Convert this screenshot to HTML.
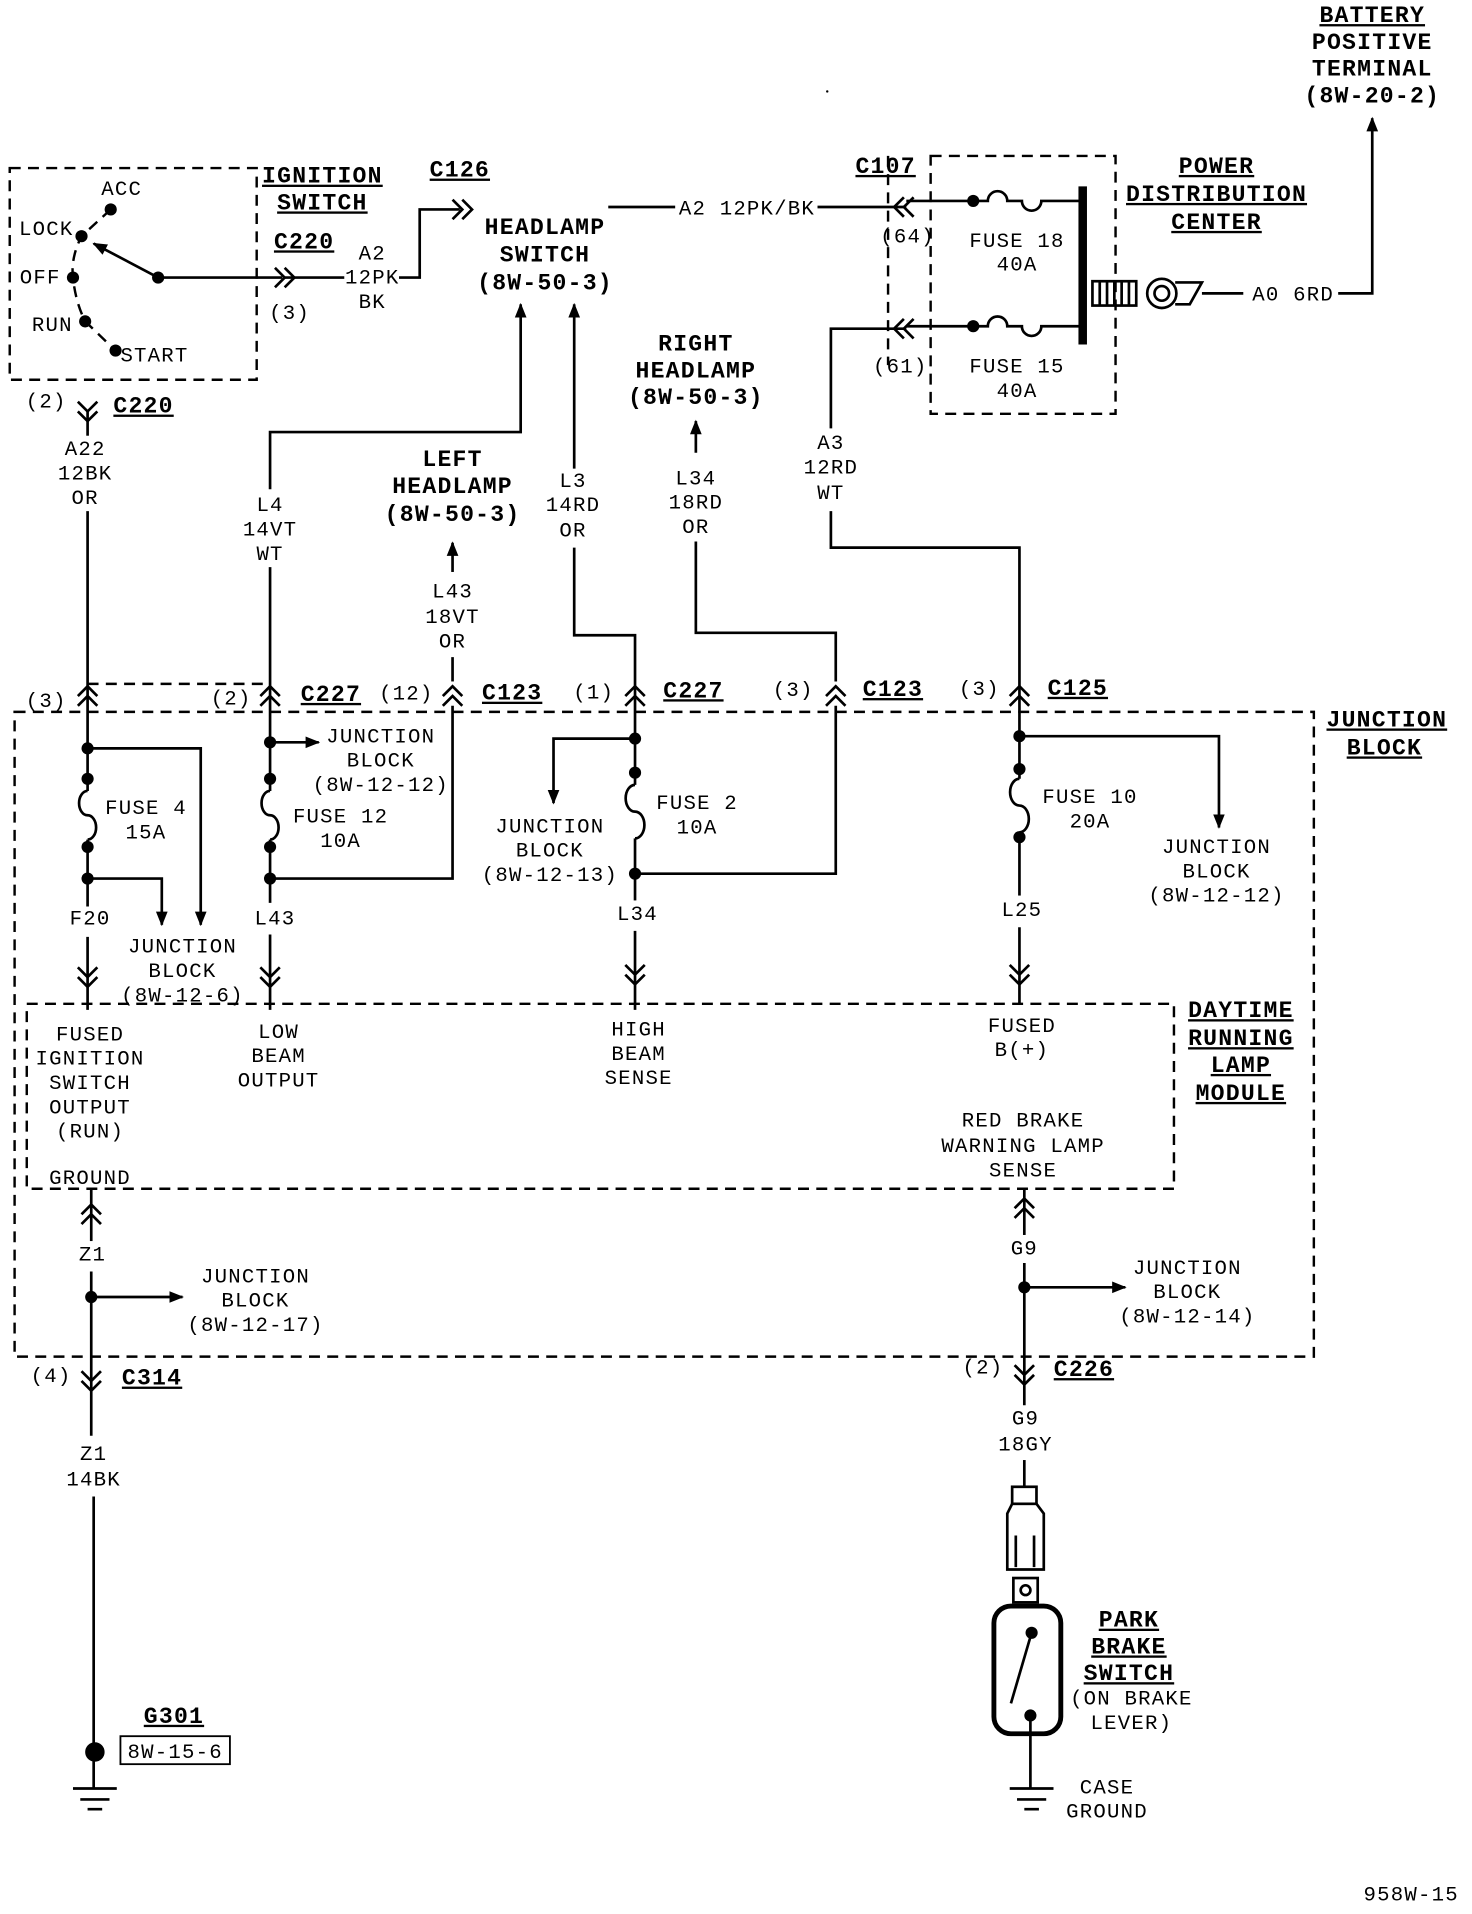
<!DOCTYPE html>
<html><head><meta charset="utf-8"><style>
html,body{margin:0;padding:0;background:#fff;}
svg{display:block}
text{font-family:"Liberation Mono",monospace;font-size:17px;fill:#000;text-anchor:middle;letter-spacing:1px}
.b{font-weight:bold;font-size:19px;text-decoration:underline}
.bn{font-weight:bold;font-size:19px}
</style></head><body>
<svg width="1472" height="1914" viewBox="0 0 1210 1573" xmlns="http://www.w3.org/2000/svg">
<defs>
<marker id="ar" viewBox="0 0 10 10" refX="9" refY="5" markerWidth="12" markerHeight="12" markerUnits="userSpaceOnUse" orient="auto"><path d="M0,1 L10,5 L0,9 z" fill="#000"/></marker>
</defs>
<g fill="none" stroke="#000" stroke-width="2.2">
<g stroke-dasharray="9,6" stroke-width="2">
<rect x="8" y="138" width="203" height="174"/>
<rect x="765" y="128" width="152" height="212"/>
<line x1="730" y1="128" x2="730" y2="300"/>
<rect x="12" y="585" width="1068" height="530"/>
<rect x="22" y="825" width="943" height="152"/>
<line x1="72" y1="562" x2="222" y2="562"/>
<path d="M91,172 L67,194 Q58,212 60,228 Q62,248 70,264 L95,288"/>
</g>
<line x1="130" y1="228" x2="77" y2="200" marker-end="url(#ar)"/>
<line x1="130" y1="228" x2="232" y2="228"/>
<path d="M226,220 L234,228 L226,236 M234,220 L242,228 L234,236"/>
<line x1="234" y1="228" x2="283" y2="228"/>
<path d="M328,228 L345,228 L345,172 L378,172"/>
<path d="M372,164 L380,172 L372,180 M380,164 L388,172 L380,180"/>
<line x1="500" y1="170" x2="555" y2="170"/>
<line x1="672" y1="170" x2="745" y2="170"/>
<path d="M743,162 L735,170 L743,178 M751,162 L743,170 L751,178"/>
<line x1="745" y1="165" x2="800" y2="165"/>
<path d="M800,165 L812,165 a8,8 0 0 1 16,0 L840,165 a8,8 0 0 0 16,0 L888,165"/>
<path d="M683,352 L683,270 L745,270"/>
<path d="M743,262 L735,270 L743,278 M751,262 L743,270 L751,278"/>
<path d="M745,268 L812,268 a8,8 0 0 1 16,0 L840,268 a8,8 0 0 0 16,0 L888,268"/>
<line x1="890" y1="153" x2="890" y2="283" stroke-width="7"/>
<rect x="898" y="231" width="36" height="20"/>
<path d="M904,231v20M910,231v20M916,231v20M922,231v20M928,231v20"/>
<circle cx="955" cy="241" r="12"/><circle cx="955" cy="241" r="6"/>
<path d="M966,232 L988,232 L978,250 L966,250"/>
<line x1="988" y1="241" x2="1022" y2="241"/>
<path d="M1100,241 L1128,241 L1128,97" marker-end="url(#ar)"/>
<path d="M222,402 L222,355 L428,355 L428,250" marker-end="url(#ar)"/>
<line x1="222" y1="466" x2="222" y2="560"/>
<path d="M472,385 L472,250" marker-end="url(#ar)"/>
<path d="M472,450 L472,522 L522,522 L522,560"/>
<path d="M372,470 L372,446" marker-end="url(#ar)"/>
<line x1="372" y1="540" x2="372" y2="560"/>
<path d="M572,372 L572,346" marker-end="url(#ar)"/>
<path d="M572,445 L572,520 L687,520 L687,560"/>
<path d="M683,420 L683,450 L838,450 L838,560"/>
<line x1="72" y1="338" x2="72" y2="358"/>
<line x1="72" y1="420" x2="72" y2="560"/>
<path d="M64,330 L72,338 L80,330 M64,338 L72,346 L80,338"/>
<g>
<path d="M64,572 L72,564 L80,572 M64,580 L72,572 L80,580"/>
<path d="M214,572 L222,564 L230,572 M214,580 L222,572 L230,580"/>
<path d="M364,572 L372,564 L380,572 M364,580 L372,572 L380,580"/>
<path d="M514,572 L522,564 L530,572 M514,580 L522,572 L530,580"/>
<path d="M679,572 L687,564 L695,572 M679,580 L687,572 L695,580"/>
<path d="M830,572 L838,564 L846,572 M830,580 L838,572 L846,580"/>
</g>
<line x1="72" y1="560" x2="72" y2="650"/>
<path d="M72,650 a7,10 0 0 0 0,20 a7,10 0 0 1 0,20"/>
<line x1="72" y1="690" x2="72" y2="745"/>
<path d="M72,615 L165,615 L165,760" marker-end="url(#ar)"/>
<path d="M72,722 L133,722 L133,760" marker-end="url(#ar)"/>
<line x1="72" y1="770" x2="72" y2="830"/>
<line x1="222" y1="560" x2="222" y2="650"/>
<path d="M222,650 a7,10 0 0 0 0,20 a7,10 0 0 1 0,20"/>
<line x1="222" y1="690" x2="222" y2="742"/>
<path d="M222,610 L262,610" marker-end="url(#ar)"/>
<path d="M222,722 L372,722 L372,580"/>
<line x1="222" y1="768" x2="222" y2="830"/>
<line x1="522" y1="560" x2="522" y2="645"/>
<path d="M522,645 a7,10 0 0 0 0,22 a7,10 0 0 1 0,22"/>
<line x1="522" y1="689" x2="522" y2="740"/>
<path d="M522,607 L455,607 L455,660" marker-end="url(#ar)"/>
<path d="M522,718 L687,718 L687,580"/>
<line x1="522" y1="765" x2="522" y2="830"/>
<line x1="838" y1="560" x2="838" y2="640"/>
<path d="M838,640 a7,10 0 0 0 0,22 a7,10 0 0 1 0,22"/>
<line x1="838" y1="684" x2="838" y2="736"/>
<path d="M838,605 L1002,605 L1002,680" marker-end="url(#ar)"/>
<line x1="838" y1="762" x2="838" y2="825"/>
<g>
<path d="M64,795 L72,803 L80,795 M64,803 L72,811 L80,803"/>
<path d="M214,795 L222,803 L230,795 M214,803 L222,811 L230,803"/>
<path d="M514,793 L522,801 L530,793 M514,801 L522,809 L530,801"/>
<path d="M830,793 L838,801 L846,793 M830,801 L838,809 L846,801"/>
</g>
<line x1="75" y1="977" x2="75" y2="1020"/>
<path d="M67,998 L75,990 L83,998 M67,1006 L75,998 L83,1006"/>
<line x1="75" y1="1045" x2="75" y2="1180"/>
<path d="M75,1066 L150,1066" marker-end="url(#ar)"/>
<path d="M67,1127 L75,1135 L83,1127 M67,1135 L75,1143 L83,1135"/>
<line x1="77" y1="1230" x2="77" y2="1470"/>
<path d="M60,1470h36M66,1479h24M72,1487h12"/>
<line x1="842" y1="977" x2="842" y2="1015"/>
<path d="M834,993 L842,985 L850,993 M834,1001 L842,993 L850,1001"/>
<line x1="842" y1="1038" x2="842" y2="1155"/>
<path d="M842,1058 L925,1058" marker-end="url(#ar)"/>
<path d="M834,1122 L842,1130 L850,1122 M834,1130 L842,1138 L850,1130"/>
<line x1="842" y1="1200" x2="842" y2="1222"/>
<rect x="832" y="1222" width="20" height="14"/>
<path d="M832,1236 L828,1244 L828,1290 L858,1290 L858,1244 L852,1236"/>
<path d="M835,1262 L835,1288 M850,1262 L850,1288"/>
<rect x="833" y="1297" width="20" height="20"/>
<circle cx="843" cy="1307" r="4"/>
<rect x="817" y="1320" width="55" height="105" rx="14" stroke-width="4"/>
<line x1="848" y1="1342" x2="831" y2="1400"/>
<line x1="847" y1="1410" x2="847" y2="1470"/>
<path d="M830,1470h36M836,1479h24M842,1487h12"/>
<rect x="99" y="1427" width="90" height="23" stroke-width="1.5"/>
</g>
<g fill="#000">
<circle cx="91" cy="172" r="5"/><circle cx="67" cy="194" r="5"/><circle cx="60" cy="228" r="5"/><circle cx="70" cy="264" r="5"/><circle cx="95" cy="288" r="5"/><circle cx="130" cy="228" r="5"/>
<circle cx="800" cy="165" r="5"/><circle cx="800" cy="268" r="5"/>
<circle cx="72" cy="615" r="5"/><circle cx="72" cy="640" r="5"/><circle cx="72" cy="696" r="5"/><circle cx="72" cy="722" r="5"/>
<circle cx="222" cy="610" r="5"/><circle cx="222" cy="640" r="5"/><circle cx="222" cy="696" r="5"/><circle cx="222" cy="722" r="5"/>
<circle cx="522" cy="607" r="5"/><circle cx="522" cy="635" r="5"/><circle cx="522" cy="718" r="5"/>
<circle cx="838" cy="605" r="5"/><circle cx="838" cy="632" r="5"/><circle cx="838" cy="688" r="5"/>
<circle cx="75" cy="1066" r="5"/><circle cx="842" cy="1058" r="5"/>
<circle cx="78" cy="1440" r="8"/>
<circle cx="848" cy="1342" r="5"/><circle cx="847" cy="1410" r="5"/>
<circle cx="680" cy="75" r="1"/>
</g>
<text class="b" x="1128" y="18">BATTERY</text><text class="bn" x="1128" y="40">POSITIVE</text><text class="bn" x="1128" y="62">TERMINAL</text><text class="bn" x="1128" y="84">(8W-20-2)</text>
<text class="b" x="1000" y="142">POWER</text><text class="b" x="1000" y="165">DISTRIBUTION</text><text class="b" x="1000" y="188">CENTER</text>
<text class="b" x="265" y="150">IGNITION</text><text class="b" x="265" y="172">SWITCH</text>
<text class="b" x="250" y="204">C220</text>
<text class="b" x="378" y="145">C126</text>
<text class="b" x="728" y="142">C107</text>
<text x="100" y="160">ACC</text><text x="38" y="193">LOCK</text><text x="33" y="233">OFF</text><text x="43" y="272">RUN</text><text x="127" y="297">START</text>
<text x="238" y="262">(3)</text>
<text x="306" y="213">A2</text><text x="306" y="233">12PK</text><text x="306" y="253">BK</text>
<text class="bn" x="448" y="192">HEADLAMP</text><text class="bn" x="448" y="215">SWITCH</text><text class="bn" x="448" y="238">(8W-50-3)</text>
<text x="614" y="176">A2 12PK/BK</text>
<text x="836" y="203">FUSE 18</text><text x="836" y="222">40A</text>
<text x="836" y="306">FUSE 15</text><text x="836" y="326">40A</text>
<text x="746" y="199">(64)</text><text x="740" y="306">(61)</text>
<text x="1063" y="247">A0 6RD</text>
<text x="38" y="335">(2)</text><text class="b" x="118" y="339">C220</text>
<text x="70" y="374">A22</text><text x="70" y="394">12BK</text><text x="70" y="414">OR</text>
<text x="222" y="420">L4</text><text x="222" y="440">14VT</text><text x="222" y="460">WT</text>
<text class="bn" x="372" y="383">LEFT</text><text class="bn" x="372" y="405">HEADLAMP</text><text class="bn" x="372" y="428">(8W-50-3)</text>
<text x="372" y="491">L43</text><text x="372" y="512">18VT</text><text x="372" y="532">OR</text>
<text x="471" y="400">L3</text><text x="471" y="420">14RD</text><text x="471" y="441">OR</text>
<text class="bn" x="572" y="288">RIGHT</text><text class="bn" x="572" y="310">HEADLAMP</text><text class="bn" x="572" y="332">(8W-50-3)</text>
<text x="572" y="398">L34</text><text x="572" y="418">18RD</text><text x="572" y="438">OR</text>
<text x="683" y="369">A3</text><text x="683" y="389">12RD</text><text x="683" y="410">WT</text>
<text x="38" y="581">(3)</text>
<text x="190" y="579">(2)</text><text class="b" x="272" y="576">C227</text>
<text x="334" y="575">(12)</text><text class="b" x="421" y="575">C123</text>
<text x="488" y="574">(1)</text><text class="b" x="570" y="573">C227</text>
<text x="652" y="572">(3)</text><text class="b" x="734" y="572">C123</text>
<text x="805" y="571">(3)</text><text class="b" x="886" y="571">C125</text>
<text class="b" x="1140" y="597">JUNCTION</text><text class="b" x="1138" y="620">BLOCK</text>
<text x="313" y="610">JUNCTION</text><text x="313" y="630">BLOCK</text><text x="313" y="650">(8W-12-12)</text>
<text x="120" y="669">FUSE 4</text><text x="120" y="689">15A</text>
<text x="280" y="676">FUSE 12</text><text x="280" y="696">10A</text>
<text x="452" y="684">JUNCTION</text><text x="452" y="704">BLOCK</text><text x="452" y="724">(8W-12-13)</text>
<text x="573" y="665">FUSE 2</text><text x="573" y="685">10A</text>
<text x="896" y="660">FUSE 10</text><text x="896" y="680">20A</text>
<text x="1000" y="701">JUNCTION</text><text x="1000" y="721">BLOCK</text><text x="1000" y="741">(8W-12-12)</text>
<text x="74" y="760">F20</text><text x="226" y="760">L43</text><text x="524" y="756">L34</text><text x="840" y="753">L25</text>
<text x="150" y="783">JUNCTION</text><text x="150" y="803">BLOCK</text><text x="150" y="823">(8W-12-6)</text>
<text class="b" x="1020" y="836">DAYTIME</text><text class="b" x="1020" y="859">RUNNING</text><text class="b" x="1020" y="881">LAMP</text><text class="b" x="1020" y="904">MODULE</text>
<text x="74" y="855">FUSED</text><text x="74" y="875">IGNITION</text><text x="74" y="895">SWITCH</text><text x="74" y="915">OUTPUT</text><text x="74" y="935">(RUN)</text>
<text x="74" y="973">GROUND</text>
<text x="229" y="853">LOW</text><text x="229" y="873">BEAM</text><text x="229" y="893">OUTPUT</text>
<text x="525" y="851">HIGH</text><text x="525" y="871">BEAM</text><text x="525" y="891">SENSE</text>
<text x="840" y="848">FUSED</text><text x="840" y="868">B(+)</text>
<text x="841" y="926">RED BRAKE</text><text x="841" y="947">WARNING LAMP</text><text x="841" y="967">SENSE</text>
<text x="76" y="1036">Z1</text>
<text x="210" y="1054">JUNCTION</text><text x="210" y="1074">BLOCK</text><text x="210" y="1094">(8W-12-17)</text>
<text x="842" y="1031">G9</text>
<text x="976" y="1047">JUNCTION</text><text x="976" y="1067">BLOCK</text><text x="976" y="1087">(8W-12-14)</text>
<text x="42" y="1136">(4)</text><text class="b" x="125" y="1138">C314</text>
<text x="808" y="1129">(2)</text><text class="b" x="891" y="1131">C226</text>
<text x="77" y="1200">Z1</text><text x="77" y="1221">14BK</text>
<text x="843" y="1171">G9</text><text x="843" y="1192">18GY</text>
<text class="b" x="143" y="1416">G301</text>
<text x="144" y="1445">8W-15-6</text>
<text class="b" x="928" y="1337">PARK</text><text class="b" x="928" y="1359">BRAKE</text><text class="b" x="928" y="1381">SWITCH</text>
<text x="930" y="1401">(ON BRAKE</text><text x="930" y="1421">LEVER)</text>
<text x="910" y="1474">CASE</text><text x="910" y="1494">GROUND</text>
<text x="1160" y="1562">958W-15</text>
</svg>
</body></html>
